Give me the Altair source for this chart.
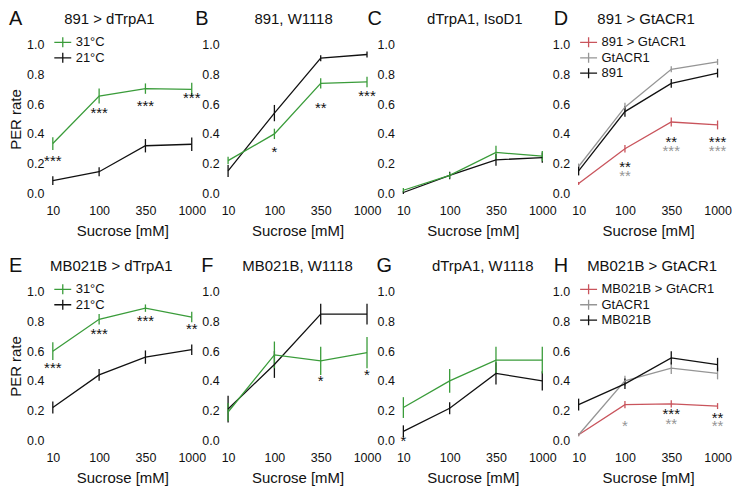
import altair as alt
import pandas as pd

SUCROSE = ["10", "100", "350", "1000"]

GREEN = "#3a9c3a"
BLACK = "#111111"
RED = "#c9545c"
GRAY = "#959595"

# ---------------- Panel A: 891 > dTrpA1
A_31 = [0.335, 0.655, 0.705, 0.70]
A_31_ERR = [0.043, 0.05, 0.035, 0.045]
A_21 = [0.085, 0.145, 0.32, 0.33]
A_21_ERR = [0.03, 0.03, 0.045, 0.045]
A_STAR_X = ["10", "100", "350", "1000"]
A_STAR_Y = [0.225, 0.545, 0.593, 0.65]
A_STAR_T = ["***", "***", "***", "***"]
A_STAR_C = [BLACK, BLACK, BLACK, BLACK]

# ---------------- Panel B: 891, W1118
B_BLACK = [0.15, 0.54, 0.91, 0.935]
B_BLACK_ERR = [0.04, 0.055, 0.02, 0.02]
B_GREEN = [0.22, 0.40, 0.74, 0.75]
B_GREEN_ERR = [0.025, 0.035, 0.035, 0.035]
B_STAR_X = ["100", "350", "1000"]
B_STAR_Y = [0.286, 0.583, 0.664]
B_STAR_T = ["*", "**", "***"]
B_STAR_C = [BLACK, BLACK, BLACK]

# ---------------- Panel C: dTrpA1, IsoD1
C_GREEN = [0.02, 0.12, 0.275, 0.25]
C_GREEN_ERR = [0.015, 0.02, 0.045, 0.035]
C_BLACK = [0.005, 0.12, 0.225, 0.24]
C_BLACK_ERR = [0.01, 0.025, 0.04, 0.035]

# ---------------- Panel D: 891 > GtACR1
D_RED = [0.066, 0.30, 0.48, 0.46]
D_RED_ERR = [0.01, 0.025, 0.03, 0.03]
D_GRAY = [0.18, 0.58, 0.835, 0.885]
D_GRAY_ERR = [0.02, 0.03, 0.02, 0.02]
D_BLACK = [0.15, 0.55, 0.74, 0.81]
D_BLACK_ERR = [0.03, 0.035, 0.03, 0.03]
D_STAR_X = ["100", "100", "350", "350", "1000", "1000"]
D_STAR_Y = [0.184, 0.122, 0.354, 0.294, 0.354, 0.294]
D_STAR_T = ["**", "**", "**", "***", "***", "***"]
D_STAR_C = [BLACK, GRAY, BLACK, GRAY, BLACK, GRAY]

# ---------------- Panel E: MB021B > dTrpA1
E_31 = [0.60, 0.815, 0.89, 0.83]
E_31_ERR = [0.06, 0.035, 0.025, 0.035]
E_21 = [0.22, 0.44, 0.56, 0.61]
E_21_ERR = [0.04, 0.04, 0.045, 0.035]
E_STAR_X = ["10", "100", "350", "1000"]
E_STAR_Y = [0.49, 0.719, 0.807, 0.755]
E_STAR_T = ["***", "***", "***", "**"]
E_STAR_C = [BLACK, BLACK, BLACK, BLACK]

# ---------------- Panel F: MB021B, W1118
F_BLACK = [0.21, 0.51, 0.85, 0.85]
F_BLACK_ERR = [0.09, 0.09, 0.07, 0.07]
F_GREEN = [0.19, 0.575, 0.535, 0.59]
F_GREEN_ERR = [0.06, 0.09, 0.095, 0.105]
F_STAR_X = ["350", "1000"]
F_STAR_Y = [0.403, 0.447]
F_STAR_T = ["*", "*"]
F_STAR_C = [BLACK, BLACK]

# ---------------- Panel G: dTrpA1, W1118
G_GREEN = [0.22, 0.40, 0.54, 0.54]
G_GREEN_ERR = [0.07, 0.08, 0.09, 0.09]
G_BLACK = [0.06, 0.215, 0.45, 0.40]
G_BLACK_ERR = [0.04, 0.04, 0.075, 0.065]
G_STAR_X = ["10"]
G_STAR_Y = [0.0]
G_STAR_T = ["*"]
G_STAR_C = [BLACK]

# ---------------- Panel H: MB021B > GtACR1
H_RED = [0.037, 0.24, 0.245, 0.23]
H_RED_ERR = [0.01, 0.025, 0.025, 0.02]
H_GRAY = [0.037, 0.40, 0.486, 0.45]
H_GRAY_ERR = [0.01, 0.035, 0.04, 0.04]
H_BLACK = [0.24, 0.38, 0.555, 0.51]
H_BLACK_ERR = [0.04, 0.035, 0.045, 0.045]
H_STAR_X = ["100", "350", "350", "1000", "1000"]
H_STAR_Y = [0.103, 0.18, 0.114, 0.158, 0.103]
H_STAR_T = ["*", "***", "**", "**", "**"]
H_STAR_C = [GRAY, BLACK, GRAY, BLACK, GRAY]

Y_TICKS = [0.0, 0.2, 0.4, 0.6, 0.8, 1.0]

FONT = "Liberation Sans"
W = 153.5
H = 149
PAD = 0.1505
SYMBOL = "M-1.7,0L1.7,0M0,-1L0,1"


def panel(letter, letter_x, title, title_dx, series, stars, legend, ytitle):
    rows = []
    for name, vals, errs, col in series:
        for i, (x, v, e) in enumerate(zip(SUCROSE, vals, errs)):
            rows.append(dict(series=name, x=x, i=i, y=v, lo=v - e, hi=v + e))
    df = pd.DataFrame(rows)
    names = [s[0] for s in series]
    cols = [s[3] for s in series]
    sx, sy, st, sc = stars
    sdf = pd.DataFrame(dict(x=sx, sy=sy, t=st, c=sc))

    xaxis = alt.Axis(title="Sucrose [mM]", labelAngle=0, domain=False, ticks=False,
                     grid=False, labelPadding=11.5, titlePadding=6.5,
                     labelFontSize=12.5, titleFontSize=15, titleFontWeight="normal",
                     labelColor=BLACK, titleColor=BLACK)
    yaxis = alt.Axis(values=Y_TICKS, format=".1f", title=("PER rate" if ytitle else None),
                     domain=False, ticks=False, grid=False, labelPadding=2,
                     titlePadding=3, labelFontSize=12.5, titleFontSize=15,
                     titleFontWeight="normal", labelColor=BLACK, titleColor=BLACK)
    xenc = alt.X("x:N", sort=SUCROSE, scale=alt.Scale(type="point", padding=PAD), axis=xaxis)
    yscale = alt.Scale(domain=[0, 1], nice=False)

    if legend:
        leg = alt.Legend(orient="none", legendX=10.5, legendY=-9, title=None,
                         symbolType=SYMBOL, symbolSize=100, symbolStrokeWidth=1.3,
                         labelFontSize=13, labelOffset=6.5, rowPadding=-1.5, padding=0,
                         labelColor=BLACK)
    else:
        leg = None
    color = alt.Color("series:N", scale=alt.Scale(domain=names, range=cols), legend=leg)

    base = alt.Chart(df)
    lines = base.mark_line(strokeWidth=1.3).encode(
        x=xenc, y=alt.Y("y:Q", scale=yscale, axis=yaxis), color=color, order="i:Q")
    bars = base.mark_rule(strokeWidth=1.3).encode(
        x=xenc, y=alt.Y("lo:Q", scale=yscale, axis=yaxis), y2="hi:Q", color=color)
    starl = alt.Chart(sdf).mark_text(fontSize=15, baseline="alphabetic", dy=6).encode(
        x=xenc, y=alt.Y("sy:Q", scale=yscale, axis=yaxis), text="t:N",
        fill=alt.Fill("c:N", scale=None))
    let = alt.Chart(pd.DataFrame(dict(t=[letter]))).mark_text(
        fontSize=20, align="left", baseline="middle", color=BLACK).encode(
        text="t:N", x=alt.value(letter_x), y=alt.value(-26))
    ttl = alt.Chart(pd.DataFrame(dict(t=[title]))).mark_text(
        fontSize=15, align="center", baseline="middle", color=BLACK).encode(
        text="t:N", x=alt.value(W / 2 + title_dx), y=alt.value(-26))
    return alt.layer(bars, lines, starl, let, ttl).properties(width=W, height=H)


pA = panel("A", -37, "891 > dTrpA1", -13,
           [("31°C", A_31, A_31_ERR, GREEN), ("21°C", A_21, A_21_ERR, BLACK)],
           (A_STAR_X, A_STAR_Y, A_STAR_T, A_STAR_C), True, True)
pB = panel("B", -26, "891, W1118", -4,
           [("891, W1118 black", B_BLACK, B_BLACK_ERR, BLACK),
            ("891, W1118 green", B_GREEN, B_GREEN_ERR, GREEN)],
           (B_STAR_X, B_STAR_Y, B_STAR_T, B_STAR_C), False, False)
pC = panel("C", -29, "dTrpA1, IsoD1", 2,
           [("IsoD1 black", C_BLACK, C_BLACK_ERR, BLACK),
            ("IsoD1 green", C_GREEN, C_GREEN_ERR, GREEN)],
           ([], [], [], []), False, False)
pD = panel("D", -18, "891 > GtACR1", -2,
           [("891 > GtACR1", D_RED, D_RED_ERR, RED), ("GtACR1", D_GRAY, D_GRAY_ERR, GRAY),
            ("891", D_BLACK, D_BLACK_ERR, BLACK)],
           (D_STAR_X, D_STAR_Y, D_STAR_T, D_STAR_C), True, False)
pE = panel("E", -37, "MB021B > dTrpA1", -11,
           [("31°C", E_31, E_31_ERR, GREEN), ("21°C", E_21, E_21_ERR, BLACK)],
           (E_STAR_X, E_STAR_Y, E_STAR_T, E_STAR_C), True, True)
pF = panel("F", -20, "MB021B, W1118", 0,
           [("MB021B, W1118 black", F_BLACK, F_BLACK_ERR, BLACK),
            ("MB021B, W1118 green", F_GREEN, F_GREEN_ERR, GREEN)],
           (F_STAR_X, F_STAR_Y, F_STAR_T, F_STAR_C), False, False)
pG = panel("G", -20, "dTrpA1, W1118", 10,
           [("W1118 black", G_BLACK, G_BLACK_ERR, BLACK),
            ("W1118 green", G_GREEN, G_GREEN_ERR, GREEN)],
           (G_STAR_X, G_STAR_Y, G_STAR_T, G_STAR_C), False, False)
pH = panel("H", -18, "MB021B > GtACR1", 4,
           [("MB021B > GtACR1", H_RED, H_RED_ERR, RED), ("GtACR1", H_GRAY, H_GRAY_ERR, GRAY),
            ("MB021B", H_BLACK, H_BLACK_ERR, BLACK)],
           (H_STAR_X, H_STAR_Y, H_STAR_T, H_STAR_C), True, False)

row1 = alt.hconcat(pA, pB, pC, pD, spacing=22, bounds="flush").resolve_scale(color="independent")
row2 = alt.hconcat(pE, pF, pG, pH, spacing=22, bounds="flush").resolve_scale(color="independent")

chart = (
    alt.vconcat(row1, row2, spacing=17)
    .resolve_scale(color="independent")
    .properties(padding=0)
    .configure(font=FONT)
    .configure_view(stroke=None)
)

chart.save("out.html", embed_options={"renderer": "svg", "actions": False})
